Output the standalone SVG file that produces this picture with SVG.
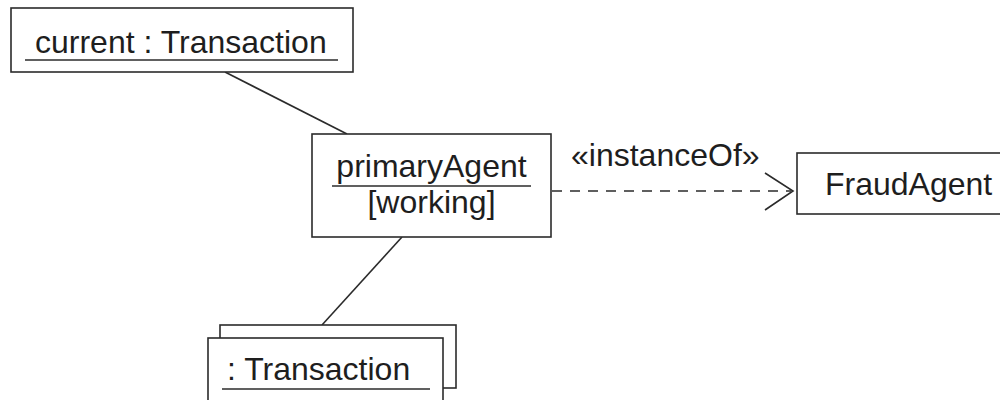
<svg xmlns="http://www.w3.org/2000/svg" width="1000" height="400" viewBox="0 0 1000 400">
  <style>
    .box { fill: #ffffff; stroke: #2b2b2b; stroke-width: 1.6; }
    .lbl { font-family: "Liberation Sans", Arial, sans-serif; font-size: 32px; fill: #1e1e1e; }
    .ul { stroke: #2b2b2b; stroke-width: 1.6; }
    .conn { stroke: #2b2b2b; stroke-width: 1.6; fill: none; }
    .dash { stroke-dasharray: 10 8; }
  </style>
  <rect x="0" y="0" width="1000" height="400" fill="#ffffff"/>
  <g id="connectors">
    <line class="conn" x1="225" y1="72" x2="347" y2="134"/>
    <line class="conn" x1="402" y1="237" x2="322" y2="325"/>
    <line class="conn dash" x1="552" y1="191" x2="791" y2="191"/>
    <polyline class="conn" points="765,173 793,191 765,210"/>
    <text class="lbl" x="571" y="166">«instanceOf»</text>
  </g>
  <g id="current">
    <rect class="box" x="11" y="8" width="342" height="64"/>
    <text class="lbl" x="35" y="53">current : Transaction</text>
    <line class="ul" x1="25" y1="60" x2="338" y2="60"/>
  </g>
  <g id="primaryAgent">
    <rect class="box" x="312" y="134" width="239" height="103"/>
    <text class="lbl" x="431.5" y="177" text-anchor="middle">primaryAgent</text>
    <line class="ul" x1="332" y1="186" x2="531" y2="186"/>
    <text class="lbl" x="431.5" y="213" text-anchor="middle">[working]</text>
  </g>
  <g id="transactions">
    <rect class="box" x="220" y="325" width="236" height="63"/>
    <rect class="box" x="208" y="338" width="235" height="70"/>
    <text class="lbl" x="227" y="380">: Transaction</text>
    <line class="ul" x1="222" y1="389" x2="430" y2="389"/>
  </g>
  <g id="fraudAgent">
    <rect class="box" x="797" y="153" width="220" height="61"/>
    <text class="lbl" x="825" y="195">FraudAgent</text>
  </g>
</svg>
